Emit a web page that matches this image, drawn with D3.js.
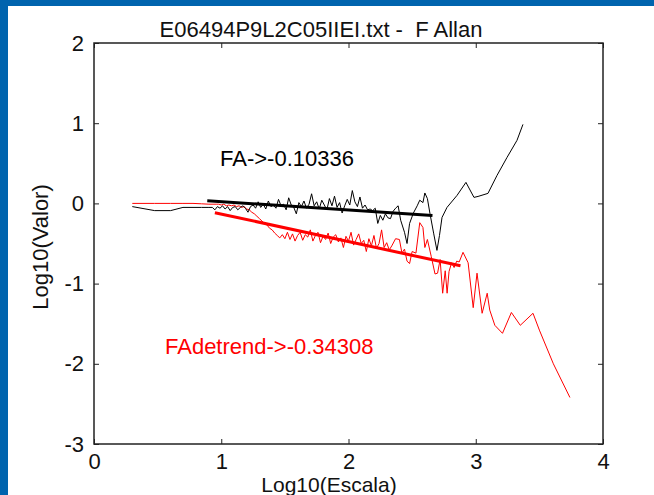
<!DOCTYPE html>
<html>
<head>
<meta charset="utf-8">
<script src="https://cdn.jsdelivr.net/npm/d3@7"></script>
<style>
  html, body { margin: 0; padding: 0; background: #fff; }
  text { font-family: "Liberation Sans", Arial, sans-serif; }
</style>
</head>
<body>
<svg width="654" height="495"></svg>
<script>
// axis ticks
var xTicks = [0, 1, 2, 3, 4];
var yTicks = [-3, -2, -1, 0, 1, 2];

// thin black line: log10(scale), log10(F Allan)
var allanX = [0.301, 0.477, 0.602, 0.699, 0.778, 0.845, 0.903, 0.93, 0.95, 0.97, 0.99, 1.01, 1.03, 1.05, 1.07, 1.09,
  1.11, 1.13, 1.15, 1.17, 1.19, 1.21, 1.23, 1.25, 1.27, 1.29, 1.31, 1.33, 1.35, 1.37, 1.39, 1.41, 1.43, 1.45, 1.47,
  1.49, 1.51, 1.53, 1.55, 1.57, 1.59, 1.61, 1.63, 1.65, 1.67, 1.69, 1.71, 1.73, 1.75, 1.77, 1.79, 1.81, 1.83, 1.85,
  1.87, 1.89, 1.91, 1.93, 1.95, 1.97, 1.99, 2.01, 2.03, 2.05, 2.07, 2.09, 2.11, 2.13, 2.15, 2.17, 2.19, 2.21, 2.23,
  2.25, 2.27, 2.29, 2.31, 2.33, 2.35, 2.37, 2.39, 2.41, 2.44, 2.46, 2.48, 2.51, 2.54, 2.56, 2.585, 2.60, 2.62, 2.64,
  2.67, 2.695, 2.715, 2.735, 2.774, 2.853, 2.923, 2.986, 3.018, 3.096, 3.167, 3.246, 3.324, 3.371];
var allanY = [-0.04, -0.09, -0.09, -0.05, -0.05, -0.05, -0.05, -0.05, -0.08, -0.04, -0.06, -0.03, -0.07, -0.04, -0.09, -0.05,
  -0.04, -0.08, -0.05, -0.03, -0.06, -0.11, -0.04, -0.02, -0.06, 0.02, -0.05, -0.01, -0.07, 0.03, -0.04, -0.02, -0.06, 0.05, -0.03,
  -0.01, -0.08, 0.07, -0.02, -0.05, -0.13, 0.01, -0.04, 0.03, -0.06, -0.01, 0.12, -0.03, 0.02, -0.07, 0.04, -0.02, -0.08, 0.06,
  -0.03, 0.09, -0.05, 0.01, -0.12, -0.03, 0.05, -0.02, 0.16, 0.02, -0.04, 0.08, -0.06, -0.02, -0.08, -0.07, -0.09, -0.06, -0.25,
  -0.15, -0.21, -0.13, -0.18, -0.19, -0.10, -0.06, -0.03, -0.21, -0.36, -0.50, -0.25, -0.12, -0.03, 0.04, 0.01, 0.13, 0.06, -0.125,
  -0.38, -0.586, -0.40, -0.175, -0.05, 0.10, 0.262, 0.075, 0.087, 0.125, 0.349, 0.574, 0.786, 0.985];

// thin red line: detrended
var detrX = [0.301, 0.477, 0.602, 0.699, 0.778, 0.845, 0.903, 0.96, 0.98, 1.00, 1.02, 1.04, 1.06, 1.08, 1.10, 1.12,
  1.14, 1.16, 1.18, 1.20, 1.22, 1.24, 1.26, 1.28, 1.30, 1.32, 1.34, 1.36, 1.38, 1.40, 1.42, 1.44, 1.46, 1.48, 1.50,
  1.52, 1.54, 1.56, 1.58, 1.60, 1.62, 1.64, 1.66, 1.68, 1.70, 1.72, 1.74, 1.76, 1.78, 1.80, 1.82, 1.84, 1.86, 1.88,
  1.90, 1.92, 1.94, 1.96, 1.98, 2.00, 2.02, 2.04, 2.06, 2.08, 2.10, 2.12, 2.14, 2.16, 2.18, 2.20, 2.22, 2.24, 2.26,
  2.28, 2.30, 2.32, 2.34, 2.37, 2.40, 2.42, 2.44, 2.46, 2.48, 2.50, 2.53, 2.56, 2.585, 2.60, 2.62, 2.65, 2.68, 2.70,
  2.72, 2.74, 2.76, 2.775, 2.79, 2.81, 2.83, 2.85, 2.87, 2.90, 2.94, 2.98, 3.01, 3.05, 3.09, 3.11, 3.15, 3.21, 3.28,
  3.35, 3.45, 3.50, 3.61, 3.74];
var detrY = [0.0, 0.0, 0.0, 0.0, 0.0, -0.005, -0.01, -0.01, -0.01, -0.02, -0.01, -0.03, -0.02, -0.03, -0.02, -0.04,
  -0.03, -0.05, -0.04, -0.07, -0.08, -0.11, -0.13, -0.16, -0.19, -0.22, -0.25, -0.27, -0.31, -0.33, -0.37, -0.40, -0.43, -0.39, -0.44,
  -0.36, -0.45, -0.38, -0.47, -0.40, -0.36, -0.46, -0.39, -0.42, -0.33, -0.47, -0.40, -0.36, -0.49, -0.41, -0.45, -0.37, -0.50, -0.42,
  -0.39, -0.48, -0.43, -0.55, -0.41, -0.47, -0.36, -0.52, -0.45, -0.38, -0.50, -0.46, -0.60, -0.44, -0.53, -0.40, -0.56, -0.50, -0.33,
  -0.55, -0.49, -0.58, -0.53, -0.44, -0.45, -0.62, -0.57, -0.72, -0.75, -0.60, -0.62, -0.24, -0.30, -0.55, -0.45, -0.66, -0.88, -0.87,
  -0.70, -1.12, -0.84, -1.12, -0.85, -0.74, -0.80, -0.72, -0.73, -0.61, -0.74, -1.30, -0.87, -1.37, -1.12, -1.33, -1.52, -1.62, -1.36,
  -1.52, -1.37, -1.58, -2.00, -2.42];

// fitted lines: slope, intercept, x range
var fitAllan = {slope: -0.10336, intercept: 0.125, from: 0.89, to: 2.66};
var fitDetr = {slope: -0.34308, intercept: 0.21, from: 0.95, to: 2.88};

var svg = d3.select("svg"),
    margin = {top: 43, right: 51, bottom: 51, left: 94},
    width = +svg.attr("width") - margin.left - margin.right,
    height = +svg.attr("height") - margin.top - margin.bottom;

// blue window frame
svg.append("rect").attr("x", 0).attr("y", 0).attr("width", 654).attr("height", 6).attr("fill", "#0064ae");
svg.append("rect").attr("x", 0).attr("y", 0).attr("width", 8).attr("height", 495).attr("fill", "#0064ae");

var g = svg.append("g").attr("transform", "translate(" + margin.left + "," + margin.top + ")");

var x = d3.scaleLinear().domain([0, 4]).range([0, width]);
var y = d3.scaleLinear().domain([-3, 2]).range([height, 0]);

var line = d3.line()
    .x(function(d) { return x(d[0]); })
    .y(function(d) { return y(d[1]); });

var fitPts = function(f) {
  return [[f.from, f.intercept + f.slope * f.from], [f.to, f.intercept + f.slope * f.to]];
};

g.append("path")
    .datum(d3.zip(detrX, detrY))
    .attr("fill", "none")
    .attr("stroke", "#ff0000")
    .attr("stroke-width", 1)
    .attr("d", line);

g.append("path")
    .datum(d3.zip(allanX, allanY))
    .attr("fill", "none")
    .attr("stroke", "#000")
    .attr("stroke-width", 1)
    .attr("d", line);

g.append("path")
    .datum(fitPts(fitDetr))
    .attr("stroke", "#ff0000")
    .attr("stroke-width", 3)
    .attr("d", line);

g.append("path")
    .datum(fitPts(fitAllan))
    .attr("stroke", "#000")
    .attr("stroke-width", 3)
    .attr("d", line);

// plain hyphen minus like the original
var fmt = function(d) { return String(d); };

// axes box with inward ticks, matlab style
var axisStyle = function(sel) {
  sel.select(".domain").remove();
  sel.selectAll("line").attr("stroke", "#222");
  sel.selectAll("text").attr("font-size", 22).attr("fill", "#111");
};

g.append("g")
    .attr("transform", "translate(0," + height + ")")
    .call(d3.axisBottom(x).tickValues(xTicks).tickSize(-5).tickPadding(9).tickFormat(fmt))
    .call(axisStyle);

g.append("g")
    .call(d3.axisTop(x).tickValues(xTicks).tickSize(-5).tickFormat(""))
    .call(axisStyle);

g.append("g")
    .call(d3.axisLeft(y).tickValues(yTicks).tickSize(-5).tickPadding(10).tickFormat(fmt))
    .call(axisStyle);

g.append("g")
    .attr("transform", "translate(" + width + ",0)")
    .call(d3.axisRight(y).tickValues(yTicks).tickSize(-5).tickFormat(""))
    .call(axisStyle);

g.append("rect")
    .attr("width", width)
    .attr("height", height)
    .attr("fill", "none")
    .attr("stroke", "#222")
    .attr("stroke-width", 1.5);

// labels
svg.append("text")
    .attr("x", 321)
    .attr("y", 37)
    .attr("text-anchor", "middle")
    .attr("font-size", 22)
    .attr("fill", "#111")
    .attr("xml:space", "preserve")
    .text("E06494P9L2C05IIEI.txt -  F Allan");

svg.append("text")
    .attr("x", 329)
    .attr("y", 492)
    .attr("text-anchor", "middle")
    .attr("font-size", 21)
    .attr("fill", "#111")
    .text("Log10(Escala)");

svg.append("text")
    .attr("transform", "translate(48,247) rotate(-90)")
    .attr("text-anchor", "middle")
    .attr("font-size", 22)
    .attr("fill", "#111")
    .text("Log10(Valor)");

svg.append("text")
    .attr("x", 220)
    .attr("y", 166)
    .attr("font-size", 22)
    .attr("fill", "#000")
    .text("FA->" + fitAllan.slope);

svg.append("text")
    .attr("x", 165)
    .attr("y", 354)
    .attr("font-size", 22)
    .attr("fill", "#ff0000")
    .text("FAdetrend->" + fitDetr.slope);
</script>
</body>
</html>
